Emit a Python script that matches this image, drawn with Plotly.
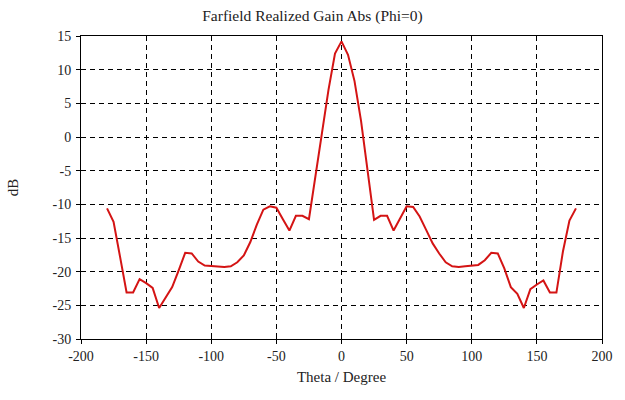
import plotly.graph_objects as go

# Far-field realized gain, Phi = 0 cut
theta_deg = list(range(-180, 181, 5))
gain_db = [
    -10.6, -12.6, -17.8, -23.1, -23.1, -21.1, -21.7, -22.4, -25.4, -23.8,
    -22.3, -19.8, -17.2, -17.3, -18.5, -19.1, -19.2, -19.2, -19.3, -19.2,
    -18.6, -17.6, -15.6, -13.0, -10.8, -10.3, -10.5, -12.2, -13.9, -11.7,
    -11.7, -12.2, -5.6, 0.8, 7.0, 12.4, 14.2, 12.2, 8.3, 2.4,
    -4.7, -12.3, -11.7, -11.7, -13.9, -12.0, -10.3, -10.4, -11.8, -13.8,
    -15.8, -17.3, -18.6, -19.2, -19.3, -19.2, -19.1, -19.0, -18.3, -17.2,
    -17.3, -19.5, -22.3, -23.3, -25.4, -22.6, -21.9, -21.3, -23.1, -23.1,
    -17.0, -12.4, -10.6,
]

x_ticks = [-200, -150, -100, -50, 0, 50, 100, 150, 200]
y_ticks = [-30, -25, -20, -15, -10, -5, 0, 5, 10, 15]

serif = "Liberation Serif, Times New Roman, serif"
text_color = "#222"

fig = go.Figure()
fig.add_trace(go.Scatter(
    x=theta_deg, y=gain_db, mode="lines",
    line=dict(color="#d41414", width=2),
    showlegend=False,
))

axis_common = dict(
    showline=True, linecolor="black", linewidth=1, mirror=True,
    ticks="outside", ticklen=4, tickcolor="black",
    showgrid=True, gridcolor="black", gridwidth=1, griddash="5px,4px",
    zeroline=False,
    tickfont=dict(family=serif, size=14, color=text_color),
)

# second set of axes only to draw the inner half of the crossing tick marks
inner_ticks = dict(
    ticks="inside", ticklen=4, tickcolor="black",
    showticklabels=False, showgrid=False, zeroline=False, showline=False,
)

fig.update_layout(
    width=625, height=400,
    paper_bgcolor="white", plot_bgcolor="white",
    margin=dict(l=81, r=21, t=36, b=61),
    title=dict(text="Farfield Realized Gain Abs (Phi=0)",
               font=dict(family=serif, size=15.5, color=text_color),
               x=0.5, xanchor="center", y=0.962, yanchor="middle"),
    xaxis=dict(range=[-200, 200], tickvals=x_ticks,
               ticktext=[str(v) for v in x_ticks],
               title=dict(text="Theta / Degree",
                          font=dict(family=serif, size=15, color=text_color),
                          standoff=8),
               **axis_common),
    yaxis=dict(range=[-30, 15], tickvals=y_ticks,
               ticktext=[str(v) for v in y_ticks],
               ticklabelstandoff=2,
               title=dict(text="dB",
                          font=dict(family=serif, size=15, color=text_color),
                          standoff=30),
               **axis_common),
    xaxis2=dict(overlaying="x", matches="x", range=[-200, 200],
                tickvals=x_ticks, side="bottom", **inner_ticks),
    yaxis2=dict(overlaying="y", matches="y", range=[-30, 15],
                tickvals=y_ticks, side="left", **inner_ticks),
)

# invisible trace so the overlay axes are drawn
fig.add_trace(go.Scatter(x=[None], y=[None], xaxis="x2", yaxis="y2",
                         showlegend=False, hoverinfo="skip"))

fig.write_html("out.html")
